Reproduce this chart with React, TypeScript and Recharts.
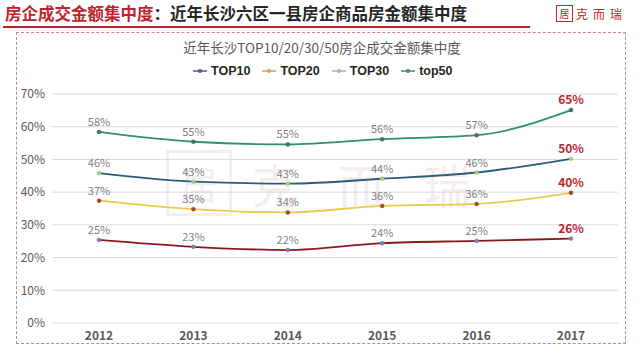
import { LineChart, Line, XAxis, YAxis, CartesianGrid } from "recharts";

const years = ["2012", "2013", "2014", "2015", "2016", "2017"];
const top10 = [25.4, 23.3, 22.3, 24.4, 25.1, 25.8];
const top20 = [37.4, 34.8, 33.8, 35.8, 36.4, 39.8];
const top30 = [45.8, 43.2, 42.6, 44.1, 46.0, 50.2];
const top50 = [58.4, 55.4, 54.6, 56.2, 57.4, 65.1];
const yTicks = [0, 10, 20, 30, 40, 50, 60, 70];

const FONT = '"Noto Sans CJK SC", "Noto Sans", sans-serif';

const SERIES = [
  { key: "top10", name: "TOP10", line: "#8b1a1f", dot: "#6f86a8", legend: "#5d5490" },
  { key: "top20", name: "TOP20", line: "#ebc94e", dot: "#9c4a2e", legend: "#d9a441" },
  { key: "top30", name: "TOP30", line: "#2b5d7a", dot: "#a6c98a", legend: "#9cc28a" },
  { key: "top50", name: "top50", line: "#2f9170", dot: "#4f6a66", legend: "#3c8a78" },
];

const data = years.map((year, i) => ({
  year,
  top10: top10[i],
  top20: top20[i],
  top30: top30[i],
  top50: top50[i],
}));

const lastIndex = years.length - 1;

// value label above each point; the latest year is highlighted in red
function PointLabel(props: any) {
  const { x, y, value, index } = props;
  const last = index === lastIndex;
  return (
    <text
      x={x}
      y={y - 6}
      textAnchor="middle"
      fontFamily={FONT}
      fontSize={last ? 12 : 11}
      fontWeight={last ? 700 : 400}
      fill={last ? "#c0232b" : "#7f7f7f"}
    >
      {Math.round(value)}%
    </text>
  );
}

export default function App() {
  return (
    <div
      style={{
        position: "fixed",
        left: 0,
        top: 0,
        width: 640,
        height: 360,
        background: "#fff",
        fontFamily: FONT,
        overflow: "hidden",
      }}
    >
      {/* page header */}
      <div
        style={{
          position: "absolute",
          left: 5,
          top: 1,
          fontSize: 16.5,
          fontWeight: 700,
          lineHeight: "24px",
          whiteSpace: "nowrap",
        }}
      >
        <span style={{ color: "#c0232b" }}>房企成交金额集中度</span>
        <span style={{ color: "#262626" }}>：近年长沙六区一县房企商品房金额集中度</span>
      </div>
      <div style={{ position: "absolute", left: 3, top: 26, width: 527, height: 2, background: "#b5252c" }} />

      {/* logo */}
      <div style={{ position: "absolute", left: 556, top: 5, display: "flex", alignItems: "center" }}>
        <div
          style={{
            width: 15,
            height: 15,
            border: "1px solid #c0232b",
            color: "#c0232b",
            fontSize: 10,
            lineHeight: "15px",
            textAlign: "center",
          }}
        >
          居
        </div>
        <span style={{ marginLeft: 3, fontSize: 12, color: "#c0232b", letterSpacing: 5 }}>克而瑞</span>
      </div>

      {/* dashed frame */}
      <div
        style={{
          position: "absolute",
          left: 16,
          top: 32,
          width: 610,
          height: 312,
          border: "1px dashed #b98b8f",
          boxSizing: "border-box",
        }}
      />

      {/* faint watermark */}
      <div
        style={{
          position: "absolute",
          left: 166,
          top: 150,
          display: "flex",
          alignItems: "center",
          color: "#f5ecec",
          fontSize: 46,
          letterSpacing: 40,
          whiteSpace: "nowrap",
        }}
      >
        <div style={{ width: 60, height: 60, border: "3px solid #f6eded", fontSize: 38, lineHeight: "60px", textAlign: "center", letterSpacing: 0 }}>居</div>
        <span style={{ marginLeft: 20 }}>克而瑞</span>
      </div>

      {/* chart title */}
      <div
        style={{
          position: "absolute",
          left: 0,
          width: 644,
          top: 37,
          textAlign: "center",
          fontSize: 13.5,
          color: "#595959",
        }}
      >
        近年长沙TOP10/20/30/50房企成交金额集中度
      </div>

      {/* legend */}
      <div
        style={{
          position: "absolute",
          left: 193,
          top: 64,
          display: "flex",
          alignItems: "center",
          fontSize: 12.5,
          fontWeight: 700,
          color: "#262626",
          fontFamily: '"Liberation Sans", Arial, sans-serif',
        }}
      >
        {SERIES.map((s) => (
          <div key={s.key} style={{ display: "flex", alignItems: "center", marginRight: 12 }}>
            <svg width={14} height={8} style={{ marginRight: 4 }}>
              <line x1={0} y1={4} x2={14} y2={4} stroke={s.legend} strokeWidth={1.5} />
              <circle cx={7} cy={4} r={2} fill={s.legend} />
            </svg>
            <span>{s.name}</span>
          </div>
        ))}
      </div>

      <div style={{ position: "absolute", left: 0, top: 0 }}>
        <LineChart width={640} height={360} data={data} margin={{ top: 94, right: 22, bottom: 7, left: 0 }}>
          <CartesianGrid vertical={false} stroke="#d9d9d9" />
          <XAxis
            dataKey="year"
            axisLine={false}
            tickLine={false}
            tickSize={0}
            tickMargin={8}
            height={30}
            padding={{ left: 47, right: 47 }}
            tick={{ fill: "#595959", fontSize: 12, fontWeight: 700, fontFamily: FONT }}
          />
          <YAxis
            domain={[0, 70]}
            ticks={yTicks}
            axisLine={false}
            tickLine={false}
            tickSize={0}
            tickMargin={7}
            width={52}
            tickFormatter={(v: number) => `${v}%`}
            tick={{ fill: "#595959", fontSize: 12, fontFamily: FONT }}
          />
          {SERIES.map((s) => (
            <Line
              key={s.key}
              type="monotone"
              dataKey={s.key}
              name={s.name}
              stroke={s.line}
              strokeWidth={1.8}
              dot={{ r: 2, fill: s.dot, stroke: s.dot, strokeWidth: 0.5 }}
              activeDot={false}
              label={<PointLabel />}
              isAnimationActive={false}
            />
          ))}
        </LineChart>
      </div>
    </div>
  );
}
